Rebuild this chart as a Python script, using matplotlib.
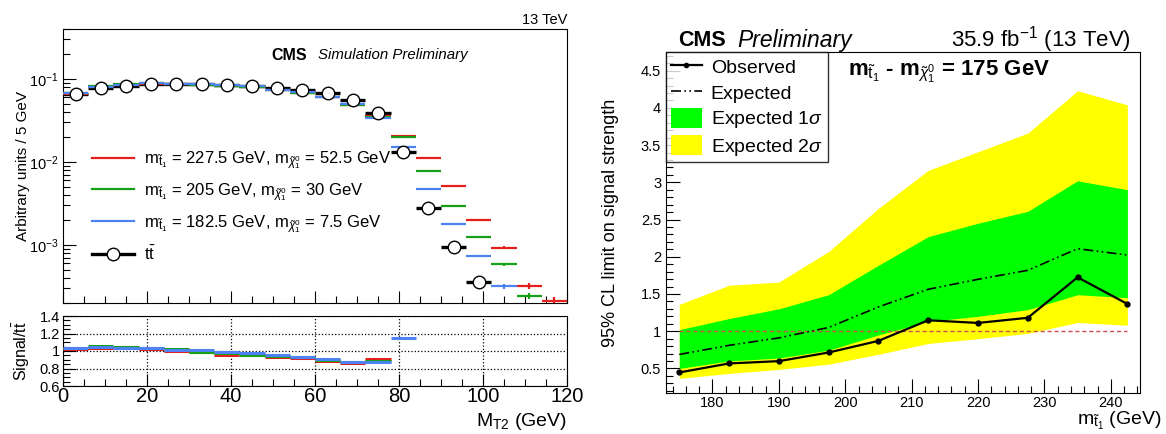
import numpy as np
import matplotlib
matplotlib.use('Agg')
import matplotlib.pyplot as plt
from matplotlib.lines import Line2D
from matplotlib.patches import Patch
from matplotlib.ticker import MultipleLocator, LogLocator, NullFormatter, FixedLocator, FormatStrFormatter

plt.rcParams['font.family'] = ['Liberation Sans', 'DejaVu Sans']
plt.rcParams['mathtext.fontset'] = 'custom'
plt.rcParams['mathtext.rm'] = 'Liberation Sans'
plt.rcParams['mathtext.it'] = 'Liberation Sans:italic'
plt.rcParams['mathtext.bf'] = 'Liberation Sans:bold'

# ---- left: MT2 shapes (6 GeV bins, 0-120 GeV) ----
bin_width = 6
tt_vals = [0.0654, 0.077, 0.082, 0.086, 0.086, 0.086, 0.085, 0.083, 0.0786,
           0.0737, 0.0673, 0.0564, 0.0393, 0.0131, 0.00277, 0.00095, 0.000355]
ratio_red = [1.02, 1.03, 1.03, 1.02, 1.00, 0.99, 0.96, 0.97, 0.93, 0.92, 0.89, 0.865, 0.905]
ratio_green = [1.03, 1.06, 1.05, 1.03, 1.02, 0.99, 0.975, 0.96, 0.94, 0.93, 0.90, 0.87, 0.89]
ratio_blue = [1.04, 1.05, 1.04, 1.03, 1.01, 1.01, 0.99, 0.98, 0.95, 0.935, 0.91, 0.88, 0.87]
tail_red = [0.0206, 0.0112, 0.00514, 0.00202, 0.00093, 0.00032, 0.000214]
tail_green = [0.0199, 0.00785, 0.00292, 0.00126, 0.000585, 0.000243]
tail_blue = [0.0151, 0.00473, 0.00181, 0.00073, 0.000318]
tail_err_red = [0.01, 0.015, 0.02, 0.03, 0.05, 0.09, 0.1]
tail_err_green = [0.01, 0.015, 0.02, 0.03, 0.05, 0.09]
tail_err_blue = [0.01, 0.015, 0.02, 0.03, 0.06]

sig_labels = [r'm$_{\tilde{\mathrm{t}}_1}$ = 227.5 GeV, m$_{\tilde{\chi}^0_1}$ = 52.5 GeV',
              r'm$_{\tilde{\mathrm{t}}_1}$ = 205 GeV, m$_{\tilde{\chi}^0_1}$ = 30 GeV',
              r'm$_{\tilde{\mathrm{t}}_1}$ = 182.5 GeV, m$_{\tilde{\chi}^0_1}$ = 7.5 GeV']
sig_colors = ['#e4201c', '#16a016', '#4d82f2']

# ---- right: limit on signal strength ----
mstop = [175, 182.5, 190, 197.5, 205, 212.5, 220, 227.5, 235, 242.5]
obs = [0.446, 0.567, 0.598, 0.714, 0.87, 1.147, 1.111, 1.18, 1.724, 1.366]
exp = [0.688, 0.81, 0.91, 1.05, 1.326, 1.563, 1.697, 1.818, 2.108, 2.023]
exp_1s_up = [1.02, 1.17, 1.30, 1.49, 1.885, 2.27, 2.45, 2.61, 3.02, 2.90]
exp_1s_dn = [0.50, 0.60, 0.64, 0.745, 0.95, 1.13, 1.20, 1.29, 1.49, 1.45]
exp_2s_up = [1.36, 1.617, 1.66, 2.07, 2.65, 3.16, 3.41, 3.66, 4.23, 4.04]
exp_2s_dn = [0.366, 0.433, 0.487, 0.557, 0.69, 0.835, 0.90, 0.97, 1.117, 1.08]

W, H = 1166, 434
fig = plt.figure(figsize=(W / 100, H / 100), dpi=100)


def box(x0, y0, x1, y1):
    # pixel box (top-left origin) -> figure fraction rect
    return [x0 / W, 1 - y1 / H, (x1 - x0) / W, (y1 - y0) / H]


def ftext(x, y, s, **kw):
    fig.text(x / W, 1 - y / H, s, **kw)


def root_ticks(ax):
    ax.tick_params(which='both', direction='in', top=False, right=False)
    ax.tick_params(which='major', length=9, width=0.8)
    ax.tick_params(which='minor', length=5, width=0.8)


ax1 = fig.add_axes(box(63, 29, 567, 303))
ax2 = fig.add_axes(box(63, 316, 567, 386))

tt = np.array(tt_vals)
n_core = len(ratio_red)
signals = []
for ratio, tail, terr in [(ratio_red, tail_red, tail_err_red),
                          (ratio_green, tail_green, tail_err_green),
                          (ratio_blue, tail_blue, tail_err_blue)]:
    vals = np.concatenate([tt[:n_core] * np.array(ratio), tail])
    rel = np.concatenate([np.full(n_core, 0.005), terr])
    signals.append((vals, rel))

# ttbar below signals for lines, circles on top
tt_x = (np.arange(len(tt)) + 0.5) * bin_width
ax1.errorbar(tt_x, tt, xerr=bin_width / 2, fmt='none', ecolor='black', elinewidth=2.4, zorder=2)
for (vals, rel), col in zip(signals, sig_colors):
    x = (np.arange(len(vals)) + 0.5) * bin_width
    ax1.errorbar(x, vals, xerr=bin_width / 2, yerr=vals * rel, fmt='none',
                 ecolor=col, elinewidth=1.6, zorder=3)
ax1.plot(tt_x, tt, 'o', ms=9, mfc='white', mec='black', mew=1.0, zorder=5)

ax1.set_yscale('log')
ax1.set_xlim(0, 120)
ax1.set_ylim(2.0e-4, 0.4)
ax1.xaxis.set_major_locator(MultipleLocator(20))
ax1.xaxis.set_minor_locator(MultipleLocator(5))
ax1.set_xticklabels([])
ax1.yaxis.set_major_locator(LogLocator(base=10, numticks=10))
ax1.yaxis.set_minor_locator(LogLocator(base=10, subs=np.arange(2, 10), numticks=10))
ax1.yaxis.set_minor_formatter(NullFormatter())
root_ticks(ax1)
ax1.tick_params(axis='y', labelsize=10.5)
ax1.set_ylabel('Arbitrary units / 5 GeV', fontsize=11, labelpad=2)
ax1.yaxis.set_label_coords(-0.065, 0.5)

handles = [Line2D([], [], color=c, lw=1.6) for c in sig_colors]
handles.append(Line2D([], [], color='black', lw=2.4, marker='o', ms=9, mfc='white', mec='black'))
labels = sig_labels + [r't$\bar{\mathrm{t}}$']
ax1.legend(handles, labels, loc='upper left', bbox_to_anchor=(0.045, 0.585), frameon=False,
           fontsize=12, handlelength=2.5, labelspacing=0.6, handletextpad=0.6,
           borderaxespad=0)

ftext(271, 55, 'CMS', fontsize=11.5, fontweight='bold', va='center')
ftext(318, 55, 'Simulation Preliminary', fontsize=10.8, style='italic', va='center')
ftext(567, 20, '13 TeV', fontsize=10.5, ha='right', va='center')

# ratio panel
for (vals, rel), col in zip(signals, sig_colors):
    m = min(len(vals), len(tt))
    r = vals[:m] / tt[:m]
    x = (np.arange(m) + 0.5) * bin_width
    ax2.errorbar(x, r, xerr=bin_width / 2, yerr=r * 0.01, fmt='none', ecolor=col,
                 elinewidth=2.2, zorder=3)
ax2.set_xlim(0, 120)
ax2.set_ylim(0.6, 1.4)
ax2.xaxis.set_major_locator(MultipleLocator(20))
ax2.xaxis.set_minor_locator(MultipleLocator(5))
ax2.yaxis.set_major_locator(FixedLocator([0.6, 0.8, 1.0, 1.2, 1.4]))
ax2.yaxis.set_major_formatter(FormatStrFormatter('%g'))
ax2.yaxis.set_minor_locator(MultipleLocator(0.05))
ax2.grid(True, which='major', color='black', ls=':', lw=0.9)
root_ticks(ax2)
ax2.tick_params(axis='y', labelsize=10.5, pad=2)
ax2.tick_params(axis='x', labelsize=14.5, pad=1)
ax2.set_ylabel(r'Signal/t$\bar{\mathrm{t}}$', fontsize=11.5)
ax2.yaxis.set_label_coords(-0.062, 0.5)
ftext(567, 422, r'M$_{\mathrm{T2}}$ (GeV)', fontsize=14, ha='right', va='center')

# ---- right panel ----
ax3 = fig.add_axes(box(666, 52, 1140, 393))
ax3.fill_between(mstop, exp_2s_dn, exp_2s_up, color='#ffff00', lw=0, zorder=1)
ax3.fill_between(mstop, exp_1s_dn, exp_1s_up, color='#00ff00', lw=0, zorder=2)
ax3.plot([mstop[0], mstop[-1]], [1, 1], color='#d0504f', ls=(0, (3, 2)), lw=1.0, zorder=3)
ax3.plot(mstop, exp, color='black', lw=1.2, ls=(0, (6, 2, 1, 2, 1, 2)), zorder=4)
ax3.plot(mstop, obs, color='black', lw=1.6, marker='o', ms=3.5, zorder=5)
ax3.set_xlim(173, 244.4)
ax3.set_ylim(0.17, 4.75)
ax3.xaxis.set_major_locator(MultipleLocator(10))
ax3.xaxis.set_minor_locator(MultipleLocator(2))
ax3.yaxis.set_major_locator(MultipleLocator(0.5))
ax3.yaxis.set_minor_locator(MultipleLocator(0.1))
ax3.yaxis.set_major_formatter(FormatStrFormatter('%g'))
root_ticks(ax3)
ax3.tick_params(which='major', length=10)
ax3.tick_params(labelsize=10.5)
ax3.tick_params(axis='x', pad=2)
ax3.set_ylabel('95% CL limit on signal strength', fontsize=13)
ax3.yaxis.set_label_coords(-0.1, 0.5)
ftext(1162, 421, r'm$_{\tilde{\mathrm{t}}_1}$ (GeV)', fontsize=14, ha='right', va='center')

leg_handles = [Line2D([], [], color='black', lw=1.6, marker='o', ms=3),
               Line2D([], [], color='black', lw=1.2, ls=(0, (6, 2, 1, 2, 1, 2))),
               Patch(facecolor='#00ff00', edgecolor='none'),
               Patch(facecolor='#ffff00', edgecolor='none')]
leg_labels = ['Observed', 'Expected', r'Expected 1$\sigma$', r'Expected 2$\sigma$']
leg = ax3.legend(leg_handles, leg_labels, loc='upper left', bbox_to_anchor=(0.0, 1.0),
                 fontsize=14, frameon=True, fancybox=False, edgecolor='black',
                 handlelength=1.6, handleheight=1.2, labelspacing=0.25,
                 handletextpad=0.45, borderpad=0.25, borderaxespad=0)
leg.get_frame().set_linewidth(1.0)

ftext(848, 72, r'm$_{\tilde{\mathrm{t}}_1}$ - m$_{\tilde{\chi}^0_1}$ = 175 GeV',
      fontsize=16, fontweight='bold', va='center')
ftext(678, 40, 'CMS', fontsize=15.5, fontweight='bold', va='center')
ftext(737, 40, 'Preliminary', fontsize=16.5, style='italic', va='center')
ftext(1131, 40, r'35.9 fb$^{-1}$ (13 TeV)', fontsize=16, ha='right', va='center')

fig.savefig('out.png', dpi=100)
